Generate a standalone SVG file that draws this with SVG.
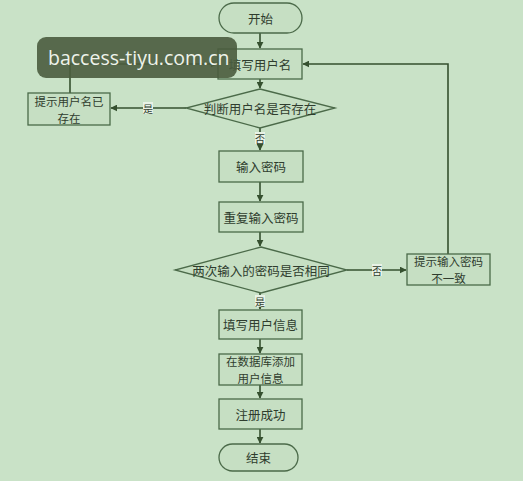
<svg xmlns="http://www.w3.org/2000/svg" width="523" height="481" viewBox="0 0 523 481">
<style>
.bg{fill:#c9e2c7}
.shape{fill:#c6dfc3;stroke:#4b6a49;stroke-width:1.3}
.t{font-family:"Noto Sans CJK SC","Noto Sans",sans-serif;font-size:12.5px;fill:#2f3d2e;text-anchor:middle;dominant-baseline:central}
.t2{font-family:"Noto Sans CJK SC","Noto Sans",sans-serif;font-size:11.5px;fill:#2f3d2e;text-anchor:middle;dominant-baseline:central}
.lbl{font-family:"Noto Sans CJK SC","Noto Sans",sans-serif;font-size:10px;fill:#2f3d2e;text-anchor:middle;dominant-baseline:central}
.lblbg{fill:#e8f2e6}
.c{fill:none;stroke:#35502f;stroke-width:1.6}
.wm{fill:#4a5c3e;fill-opacity:0.9}
.wmt{font-family:"Open Sans","Noto Sans",sans-serif;font-size:19.5px;fill:#eef3ea}
</style>
<defs>
<marker id="ah" viewBox="0 0 10 10" refX="9" refY="5" markerWidth="7" markerHeight="7" orient="auto" markerUnits="userSpaceOnUse">
<path d="M0,0 L10,5 L0,10 z" fill="#35502f"/>
</marker>
</defs>
<rect class="bg" x="0" y="0" width="523" height="481"/>

<g id="connectors">
<path class="c" d="M260,33 V48" marker-end="url(#ah)"/>
<path class="c" d="M260,79 V88" marker-end="url(#ah)"/>
<path class="c" d="M186,108 H111" marker-end="url(#ah)"/>
<path class="c" d="M70,93 V64 H217" marker-end="url(#ah)"/>
<path class="c" d="M260,128 V150" marker-end="url(#ah)"/>
<path class="c" d="M260,182 V201" marker-end="url(#ah)"/>
<path class="c" d="M260,232 V246" marker-end="url(#ah)"/>
<path class="c" d="M347,270 H406" marker-end="url(#ah)"/>
<path class="c" d="M448,254 V64 H303" marker-end="url(#ah)"/>
<path class="c" d="M260,293 V309" marker-end="url(#ah)"/>
<path class="c" d="M260,339 V353" marker-end="url(#ah)"/>
<path class="c" d="M260,385 V398" marker-end="url(#ah)"/>
<path class="c" d="M260,429 V443" marker-end="url(#ah)"/>
<rect class="lblbg" x="143" y="102" width="10" height="12"/>
<text class="lbl" x="148" y="108">是</text>
<rect class="lblbg" x="255" y="132" width="10" height="12"/>
<text class="lbl" x="260" y="138">否</text>
<rect class="lblbg" x="372" y="264" width="10" height="12"/>
<text class="lbl" x="377" y="270">否</text>
<rect class="lblbg" x="255" y="295" width="10" height="12"/>
<text class="lbl" x="260" y="301">是</text>
</g>

<g id="start">
<rect class="shape" x="219" y="3" width="83" height="30" rx="15"/>
<text class="t" x="260.5" y="18">开始</text>
</g>
<g id="fill-username">
<rect class="shape" x="218" y="49" width="84" height="30"/>
<text class="t" x="260" y="64">填写用户名</text>
</g>
<g id="check-username">
<polygon class="shape" points="260,89 335,108 260,128 186,108"/>
<text class="t" x="260" y="108">判断用户名是否存在</text>
</g>
<g id="username-exists">
<rect class="shape" x="28" y="93" width="82" height="32"/>
<text class="t2" x="69" y="100.5">提示用户名已</text>
<text class="t2" x="69" y="117.5">存在</text>
</g>
<g id="enter-password">
<rect class="shape" x="219" y="151" width="84" height="31"/>
<text class="t" x="261" y="166.5">输入密码</text>
</g>
<g id="repeat-password">
<rect class="shape" x="219" y="202" width="84" height="30"/>
<text class="t" x="261" y="217">重复输入密码</text>
</g>
<g id="check-password">
<polygon class="shape" points="261,247 347,270 261,293 175,270"/>
<text class="t" x="261" y="270">两次输入的密码是否相同</text>
</g>
<g id="password-mismatch">
<rect class="shape" x="407" y="254" width="83" height="31"/>
<text class="t2" x="448.5" y="261">提示输入密码</text>
<text class="t2" x="448.5" y="278">不一致</text>
</g>
<g id="fill-info">
<rect class="shape" x="219" y="310" width="83" height="29"/>
<text class="t" x="260.5" y="324.5">填写用户信息</text>
</g>
<g id="db-add">
<rect class="shape" x="219" y="354" width="83" height="31"/>
<text class="t2" x="260.5" y="361">在数据库添加</text>
<text class="t2" x="260.5" y="378">用户信息</text>
</g>
<g id="success">
<rect class="shape" x="219" y="399" width="83" height="30"/>
<text class="t" x="260.5" y="414">注册成功</text>
</g>
<g id="end">
<rect class="shape" x="219" y="444" width="79" height="27" rx="13.5"/>
<text class="t" x="258.5" y="457.5">结束</text>
</g>

<g id="watermark">
<rect class="wm" x="37" y="37" width="200" height="41" rx="9"/>
<text class="wmt" x="48" y="65">baccess-tiyu.com.cn</text>
</g>
</svg>
